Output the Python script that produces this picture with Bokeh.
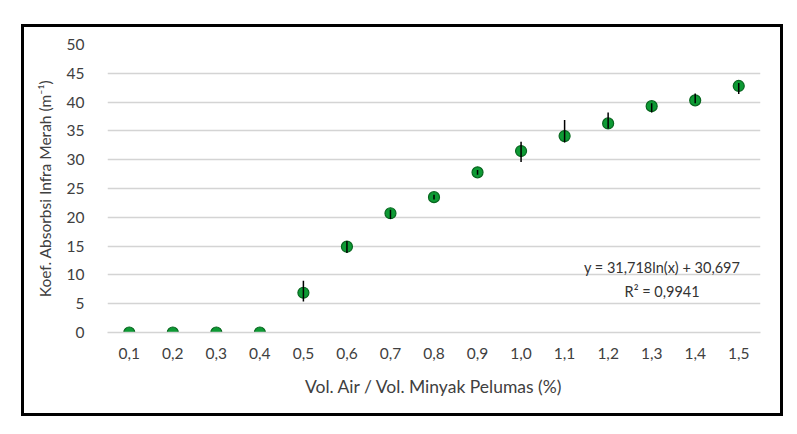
from bokeh.plotting import figure
from bokeh.models import Range1d, FactorRange, Label, FixedTicker
from bokeh.embed import file_html
from bokeh.resources import INLINE

# ---- data ----
categories = ["0,1", "0,2", "0,3", "0,4", "0,5", "0,6", "0,7", "0,8",
              "0,9", "1,0", "1,1", "1,2", "1,3", "1,4", "1,5"]
koef = [0.0, 0.0, 0.0, 0.0, 6.9, 14.9, 20.7, 23.5, 27.8, 31.5, 34.1, 36.3, 39.3, 40.3, 42.8]
err_up = [0.0, 0.0, 0.0, 0.0, 2.1, 1.0, 0.6, 0.4, 0.4, 1.6, 2.8, 1.9, 0.5, 1.2, 0.5]
err_down = [0.0, 0.0, 0.0, 0.0, 1.5, 1.1, 1.0, 0.4, 0.4, 1.9, 1.1, 0.9, 1.1, 0.5, 1.4]
y_ticks = [0, 5, 10, 15, 20, 25, 30, 35, 40, 45, 50]
equation = "y = 31,718ln(x) + 30,697"
r_squared = "R² = 0,9941"
x_title = "Vol. Air / Vol. Minyak Pelumas (%)"
y_title = "Koef. Absorbsi Infra Merah (m⁻¹)"

FONT = "Lato"
TXT = "#404040"

p = figure(width=762, height=392, output_backend="svg", toolbar_location=None,
           x_range=FactorRange(factors=categories, range_padding=0),
           y_range=Range1d(0, 50),
           min_border_left=83, min_border_right=26,
           min_border_top=17, min_border_bottom=87)
p.margin = (24, 0, 0, 21)
p.styles = {"border": "3px solid black"}
p.outline_line_color = None
p.background_fill_color = "white"
p.border_fill_color = "white"

# grid
p.xgrid.grid_line_color = None
p.ygrid.grid_line_color = "#d4d4d4"
p.ygrid.grid_line_width = 1.4
p.yaxis.ticker = FixedTicker(ticks=y_ticks)

# axes
for ax in (p.xaxis[0], p.yaxis[0]):
    ax.major_tick_line_color = None
    ax.minor_tick_line_color = None
    ax.major_label_text_font = FONT
    ax.major_label_text_font_size = "15.5px"
    ax.major_label_text_color = TXT
    ax.axis_label_text_font = FONT
    ax.axis_label_text_font_style = "normal"
    ax.axis_label_text_color = TXT
p.xaxis.axis_label_text_font_size = "17.5px"
p.yaxis.axis_label_text_font_size = "15.5px"
p.yaxis.axis_line_color = None
p.xaxis.axis_line_color = "#d4d4d4"
p.xaxis.axis_line_width = 1.4
p.yaxis.major_label_standoff = 17
p.xaxis.major_label_standoff = 9
p.xaxis.axis_label = x_title
p.yaxis.axis_label = y_title
p.xaxis.axis_label_standoff = 14
p.yaxis.axis_label_standoff = 10

# points
src = dict(x=categories, y=koef,
           lo=[v - d for v, d in zip(koef, err_down)],
           hi=[v + u for v, u in zip(koef, err_up)])
p.scatter(x="x", y="y", source=src, size=11, fill_color="#0d9a34",
          line_color="#08661f", line_width=1.2)
p.segment(x0="x", y0="lo", x1="x", y1="hi", source=src,
          line_color="black", line_width=1.5)

# trendline equation
p.add_layout(Label(x=12.74, y=11.2, text=equation, text_align="center",
                   text_baseline="middle", text_font=FONT, text_font_size="14.5px",
                   text_color="#333333"))
p.add_layout(Label(x=12.74, y=7.05, text=r_squared, text_align="center",
                   text_baseline="middle", text_font=FONT, text_font_size="14.5px",
                   text_color="#333333"))

open("out.html", "w").write(file_html(p, INLINE))
